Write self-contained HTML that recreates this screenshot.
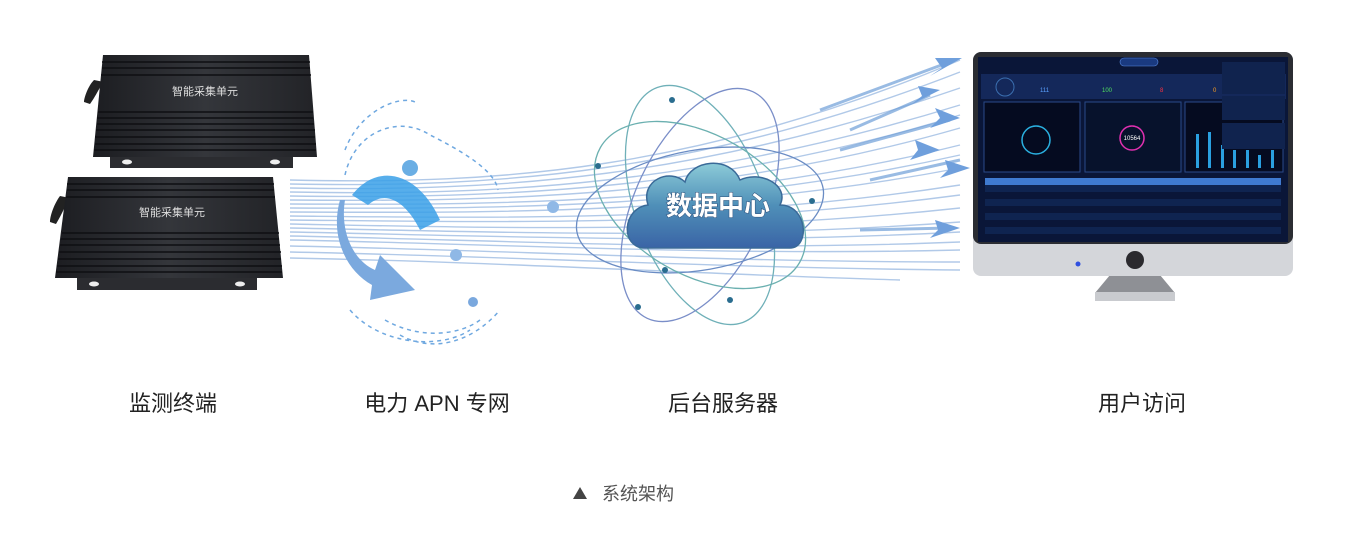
<!DOCTYPE html>
<html><head><meta charset="utf-8"><style>
html,body{margin:0;padding:0;background:#fff;width:1351px;height:536px;overflow:hidden}
svg{display:block}
text{font-family:"Liberation Sans","Noto Sans CJK SC",sans-serif}
</style></head><body>
<svg width="1351" height="536" viewBox="0 0 1351 536" xmlns="http://www.w3.org/2000/svg">
<defs>
<linearGradient id="dev" x1="0" y1="0" x2="1" y2="0"><stop offset="0" stop-color="#1c1d21"/><stop offset=".5" stop-color="#34363b"/><stop offset="1" stop-color="#222327"/></linearGradient>
<linearGradient id="cl" x1="0" y1="0" x2="0" y2="1"><stop offset="0" stop-color="#8ccbd8"/><stop offset=".5" stop-color="#4f8fb8"/><stop offset="1" stop-color="#3a64a6"/></linearGradient>
</defs>
<!-- fiber lines -->
<g fill="none" stroke="#a9c4e6" stroke-width="1.4" opacity=".9">
<path d="M290 180 C500 185 700 170 960 60"/>
<path d="M290 184 C500 188 700 173 960 72"/>
<path d="M290 188 C500 192 700 178 960 88"/>
<path d="M290 192 C500 196 700 185 960 105"/>
<path d="M290 196 C500 199 720 190 960 115"/>
<path d="M290 200 C500 202 720 197 960 128"/>
<path d="M290 204 C500 205 720 205 960 145"/>
<path d="M290 208 C500 209 720 209 960 155"/>
<path d="M290 212 C500 213 720 214 960 168"/>
<path d="M290 216 C500 218 720 222 960 185"/>
<path d="M290 220 C500 222 720 227 960 195"/>
<path d="M290 224 C500 228 720 234 960 208"/>
<path d="M290 228 C500 232 720 240 960 222"/>
<path d="M290 232 C500 236 720 245 960 232"/>
<path d="M290 236 C500 240 720 252 960 242"/>
<path d="M290 240 C500 244 720 256 960 250"/>
<path d="M290 246 C500 250 720 262 960 262"/>
<path d="M290 252 C500 256 720 268 960 270"/>
<path d="M290 258 C500 262 720 275 900 280"/>
</g>
<g fill="none" stroke="#6f9fd8" stroke-width="3" opacity=".7">
<path d="M820 110 L955 60"/><path d="M840 150 L950 120"/><path d="M870 180 L960 160"/><path d="M860 230 L950 228"/><path d="M850 130 L930 95"/>
</g>
<g fill="#6f9fdc">
<polygon points="962,58 935,58 942,68 930,76"/>
<polygon points="960,118 935,108 940,118 930,128"/>
<polygon points="940,150 915,140 918,150 910,160"/>
<polygon points="970,168 945,160 948,170 940,178"/>
<polygon points="960,228 935,220 938,230 930,238"/>
<polygon points="940,90 918,86 922,96 912,104"/>
</g>
<!-- dashed arcs -->
<g fill="none" stroke="#6fa8e0" stroke-width="1.5" stroke-dasharray="4 4">
<path d="M345 150 C360 110 400 95 415 102"/>
<path d="M345 175 C355 130 400 115 430 135 C460 150 495 170 498 190"/>
<path d="M350 310 C380 345 440 350 470 330"/>
<path d="M385 320 C420 340 460 335 480 320"/>
<path d="M400 335 C430 352 470 345 500 310"/>
</g>
<!-- curved arrow -->
<path d="M352 195 C380 160 420 175 440 220 L420 230 C405 200 385 190 368 205 Z" fill="#3aa0e8" opacity=".85"/>
<path d="M345 200 C340 230 352 260 375 270 L380 255 L415 290 L370 300 L372 285 C345 270 330 235 340 200 Z" fill="#7ba9de"/>
<circle cx="410" cy="168" r="8" fill="#6aaee4"/><circle cx="456" cy="255" r="6" fill="#8fb8e6"/><circle cx="473" cy="302" r="5" fill="#7aa8de"/><circle cx="553" cy="207" r="6" fill="#8fb8e6"/>
<!-- orbits -->
<g fill="none" stroke-width="1.3">
<ellipse cx="700" cy="205" rx="65" ry="125" transform="rotate(-20 700 205)" stroke="#6fb0b8"/>
<ellipse cx="700" cy="205" rx="65" ry="125" transform="rotate(25 700 205)" stroke="#7a8ec8"/>
<ellipse cx="700" cy="210" rx="125" ry="60" transform="rotate(-10 700 210)" stroke="#6a8cc4"/>
<ellipse cx="700" cy="205" rx="115" ry="70" transform="rotate(30 700 205)" stroke="#6bb0b0"/>
</g>
<g fill="#2a6d8f"><circle cx="672" cy="100" r="3"/><circle cx="598" cy="166" r="3"/><circle cx="638" cy="307" r="3"/><circle cx="665" cy="270" r="3"/><circle cx="730" cy="300" r="3"/><circle cx="812" cy="201" r="3"/></g>
<!-- cloud -->
<path d="M645 248 C620 248 622 208 648 205 C640 180 670 168 685 182 C690 160 730 155 740 180 C760 170 790 185 780 205 C808 205 810 248 790 248 Z" fill="url(#cl)" stroke="#3a6a98" stroke-width="1.5"/>
<text x="718" y="215" font-size="26" font-weight="bold" fill="#fff" text-anchor="middle" style="paint-order:stroke" stroke="#2c4f7a" stroke-width="1">数据中心</text>
<!-- devices -->
<g>
<path d="M94 80 C88 86 84 98 84 102 L90 104 C96 96 100 86 104 82 Z" fill="#222"/>
<rect x="110" y="155" width="183" height="13" fill="#2b2c30"/>
<ellipse cx="127" cy="162" rx="5" ry="2.5" fill="#eee"/><ellipse cx="275" cy="162" rx="5" ry="2.5" fill="#eee"/>
<polygon points="103,55 309,55 317,157 93,157" fill="url(#dev)"/>
<g stroke="#0e0f12" stroke-width="1.5"><line x1="102" y1="62" x2="310" y2="62"/><line x1="102" y1="68" x2="310" y2="68"/><line x1="101" y1="75" x2="311" y2="75"/><line x1="98" y1="112" x2="313" y2="112"/><line x1="97" y1="118" x2="313" y2="118"/><line x1="97" y1="124" x2="314" y2="124"/><line x1="96" y1="130" x2="315" y2="130"/><line x1="95" y1="137" x2="315" y2="137"/><line x1="95" y1="144" x2="316" y2="144"/><line x1="94" y1="150" x2="316" y2="150"/></g>
<text x="205" y="95" font-size="11" fill="#ddd" text-anchor="middle">智能采集单元</text>
</g>
<g>
<path d="M60 196 C54 204 50 216 50 222 L56 224 C62 214 66 204 70 198 Z" fill="#222"/>
<rect x="77" y="276" width="180" height="14" fill="#2b2c30"/>
<ellipse cx="94" cy="284" rx="5" ry="2.5" fill="#eee"/><ellipse cx="240" cy="284" rx="5" ry="2.5" fill="#eee"/>
<polygon points="68,177 273,177 283,278 55,278" fill="url(#dev)"/>
<g stroke="#0e0f12" stroke-width="1.5"><line x1="67" y1="184" x2="274" y2="184"/><line x1="67" y1="190" x2="274" y2="190"/><line x1="66" y1="197" x2="275" y2="197"/><line x1="62" y1="233" x2="279" y2="233"/><line x1="61" y1="239" x2="279" y2="239"/><line x1="60" y1="245" x2="280" y2="245"/><line x1="59" y1="252" x2="281" y2="252"/><line x1="58" y1="259" x2="281" y2="259"/><line x1="57" y1="266" x2="282" y2="266"/><line x1="56" y1="272" x2="282" y2="272"/></g>
<text x="172" y="216" font-size="11" fill="#ddd" text-anchor="middle">智能采集单元</text>
</g>
<!-- monitor -->
<polygon points="1110,275 1160,275 1175,293 1095,293" fill="#8e9095"/>
<rect x="1095" y="292" width="80" height="9" fill="#c9cbcf"/>
<rect x="973" y="52" width="320" height="224" rx="8" fill="#d4d6da"/>
<rect x="973" y="52" width="320" height="192" rx="8" fill="#2b2d33"/>
<rect x="978" y="57" width="310" height="185" fill="#0a1638"/>
<circle cx="1135" cy="260" r="9" fill="#2a2a2e"/><circle cx="1078" cy="264" r="2.5" fill="#3050e0"/>
<rect x="981" y="74" width="305" height="25" fill="#14285a"/>
<circle cx="1005" cy="87" r="9" fill="none" stroke="#3b6fb0"/>
<text x="1040" y="92" font-size="6" fill="#5aa0ff">111</text><text x="1102" y="92" font-size="6" fill="#4fe060">100</text><text x="1160" y="92" font-size="6" fill="#ff3040">8</text><text x="1213" y="92" font-size="6" fill="#ffa020">0</text>
<rect x="984" y="102" width="96" height="70" fill="#050b20" stroke="#2a4a8a"/>
<rect x="1085" y="102" width="96" height="70" fill="#07122c" stroke="#2a4a8a"/>
<rect x="1185" y="102" width="98" height="70" fill="#050b20" stroke="#2a4a8a"/>
<circle cx="1036" cy="140" r="14" fill="none" stroke="#2ab0e0" stroke-width="1.5"/>
<circle cx="1132" cy="138" r="12" fill="none" stroke="#e030b0" stroke-width="1.5"/>
<text x="1132" y="140" font-size="6" fill="#fff" text-anchor="middle">10564</text>
<g fill="#2aa0e0"><rect x="1196" y="134" width="3" height="34"/><rect x="1208" y="132" width="3" height="36"/><rect x="1221" y="145" width="3" height="23"/><rect x="1233" y="150" width="3" height="18"/><rect x="1246" y="150" width="3" height="18"/><rect x="1258" y="155" width="3" height="13"/><rect x="1271" y="150" width="3" height="18"/></g>
<rect x="1222" y="62" width="63" height="32" fill="#10234e"/><rect x="1222" y="96" width="63" height="24" fill="#10234e"/><rect x="1222" y="123" width="63" height="26" fill="#10234e"/>
<rect x="985" y="178" width="296" height="7" fill="#3f7ad0"/>
<g fill="#0f2450"><rect x="985" y="185" width="296" height="7"/><rect x="985" y="199" width="296" height="7"/><rect x="985" y="213" width="296" height="7"/><rect x="985" y="227" width="296" height="7"/></g>
<rect x="1120" y="58" width="38" height="8" rx="4" fill="#1a3a80" stroke="#5a8ae0" stroke-width=".6"/>
<!-- labels -->
<text x="173" y="411" font-size="22" fill="#222" text-anchor="middle">监测终端</text>
<text x="437" y="411" font-size="22" fill="#222" text-anchor="middle">电力 APN 专网</text>
<text x="723" y="411" font-size="22" fill="#222" text-anchor="middle">后台服务器</text>
<text x="1142" y="411" font-size="22" fill="#222" text-anchor="middle">用户访问</text>
<polygon points="573,499 580,487 587,499" fill="#444"/>
<text x="602" y="500" font-size="18" fill="#555">系统架构</text>
</svg>
</body></html>
